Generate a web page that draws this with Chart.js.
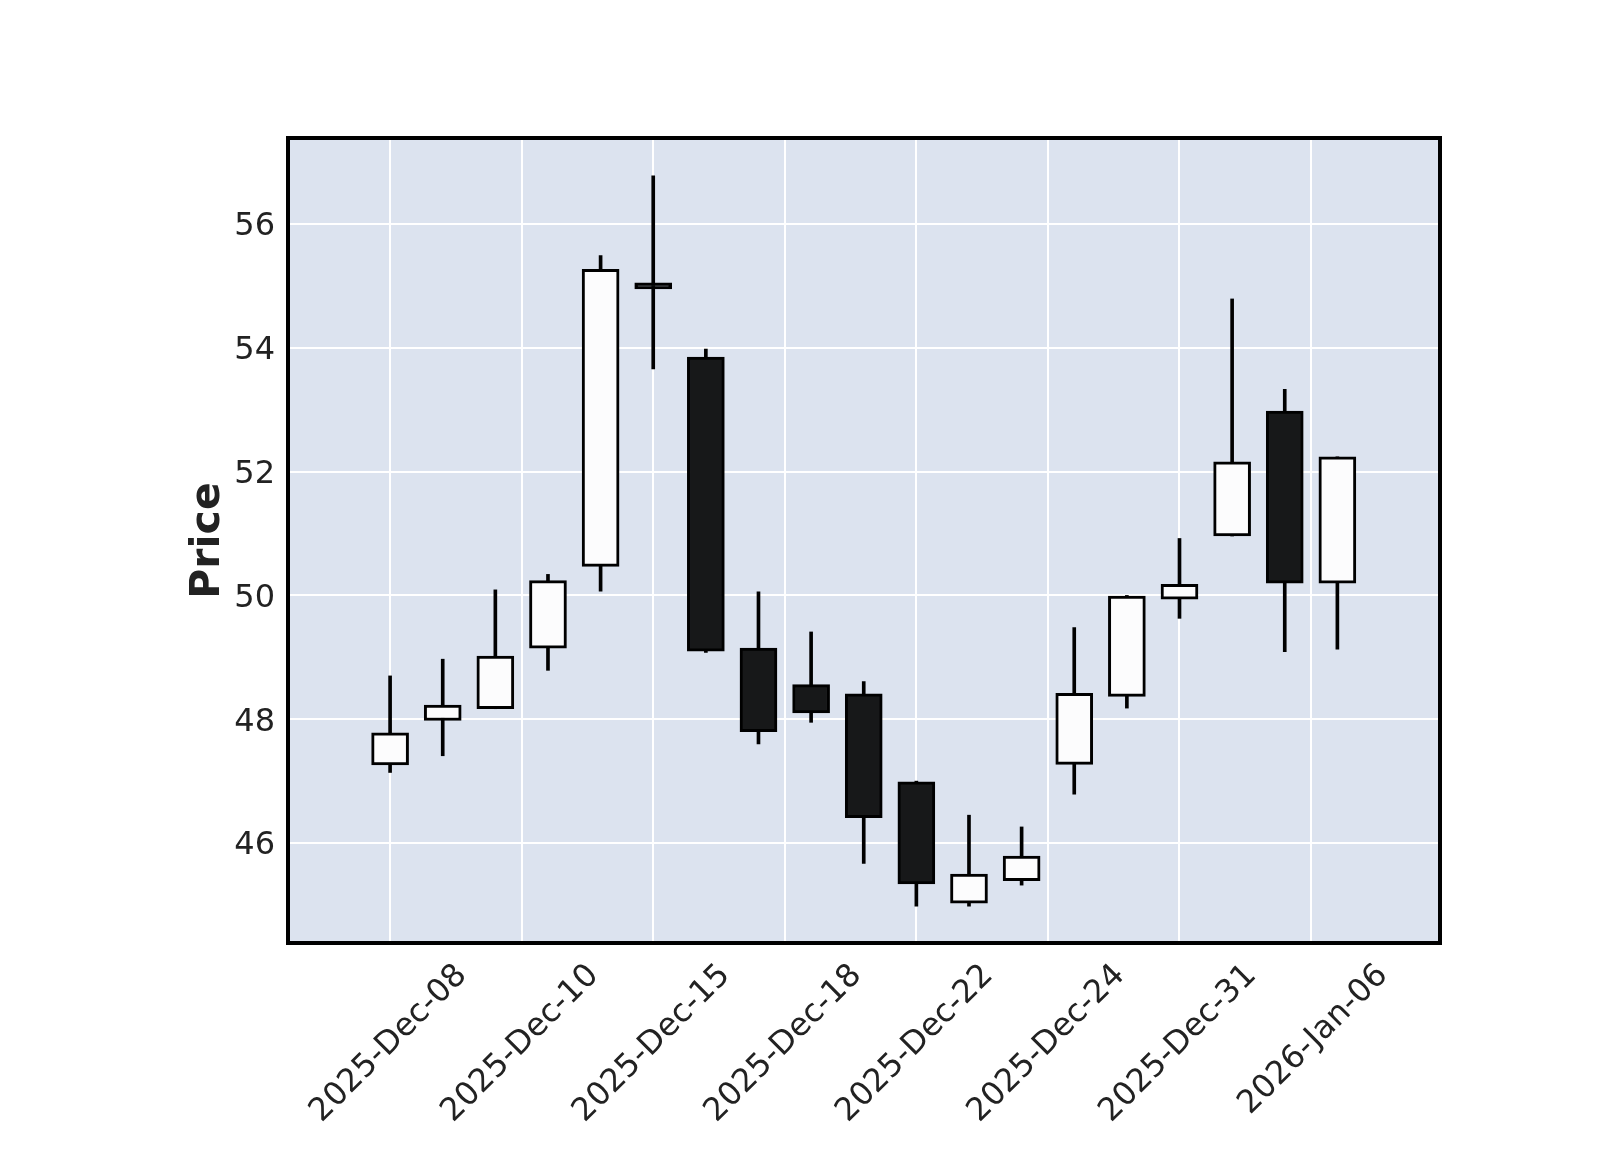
<!DOCTYPE html>
<html>
<head>
<meta charset="utf-8">
<script src="https://cdn.jsdelivr.net/npm/chart.js@4/dist/chart.umd.min.js"></script>
<style>
  html, body { margin: 0; padding: 0; background: #ffffff; }
  #wrap { width: 1600px; height: 1150px; }
</style>
</head>
<body>
<div id="wrap"><canvas id="c" width="1600" height="1150"></canvas></div>
<script>
// ---- data ----
const candleIndex = [0,1,2,3,4,5,6,7,8,9,10,11,12,13,14,15,16,17,18];
const opens  = [47.26,47.98,48.17,49.15,50.47,55.05,53.85,49.15,48.56,48.41,46.99,45.03,45.39,47.27,48.37,49.94,50.96,52.98,50.20];
const highs  = [48.70,48.97,50.09,50.34,55.49,56.78,53.98,50.06,49.41,48.61,47.00,46.45,46.26,49.48,50.00,50.92,54.79,53.33,52.24];
const lows   = [47.14,47.41,48.17,48.79,50.07,53.66,49.08,47.60,47.95,45.67,44.98,44.98,45.32,46.79,48.18,49.63,50.96,49.09,49.13];
const closes = [47.78,48.23,49.02,50.24,55.27,54.95,49.10,47.80,48.10,46.41,45.34,45.50,45.79,48.42,49.99,50.18,52.16,50.20,52.24];

const xTickPositions = [0, 2.5, 5, 7.5, 10, 12.5, 15, 17.5];
const xTickLabels = ['2025-Dec-08','2025-Dec-10','2025-Dec-15','2025-Dec-18','2025-Dec-22','2025-Dec-24','2025-Dec-31','2026-Jan-06'];
const yTickValues = [46, 48, 50, 52, 54, 56];

// ---- styling ----
const FACE = '#DCE3EF';
const UP_FILL = '#fcfcfd';
const DOWN_FILL = '#171819';
const TEXT = '#222222';
const FONT = 'DejaVu Sans';

const wickData = candleIndex.map((x, i) => ({ x: x, y: [lows[i], highs[i]] }));
const bodyData = candleIndex.map((x, i) => ({ x: x, y: [opens[i], closes[i]] }));
const bodyColors = candleIndex.map((x, i) => closes[i] >= opens[i] ? UP_FILL : DOWN_FILL);

const framePlugin = {
  id: 'frame',
  beforeDraw(chart) {
    const a = chart.chartArea, ctx = chart.ctx;
    ctx.save();
    ctx.fillStyle = FACE;
    ctx.fillRect(a.left, a.top, a.right - a.left, a.bottom - a.top);
    ctx.restore();
  },
  afterDraw(chart) {
    const a = chart.chartArea, ctx = chart.ctx;
    ctx.save();
    ctx.strokeStyle = '#000000';
    ctx.lineWidth = 4;
    ctx.strokeRect(a.left, a.top, a.right - a.left, a.bottom - a.top);
    ctx.restore();
  }
};

new Chart(document.getElementById('c'), {
  type: 'bar',
  data: {
    datasets: [
      {
        label: 'body',
        data: bodyData,
        backgroundColor: bodyColors,
        borderColor: '#000000',
        borderWidth: 3,
        borderSkipped: false,
        barThickness: 37,
        grouped: false,
        order: 1
      },
      {
        label: 'wick',
        data: wickData,
        backgroundColor: '#000000',
        borderWidth: 0,
        barThickness: 3,
        grouped: false,
        order: 2
      }
    ]
  },
  options: {
    responsive: false,
    animation: false,
    devicePixelRatio: 1,
    layout: { padding: { top: 138, right: 160, bottom: 0, left: 0 } },
    plugins: { legend: { display: false }, tooltip: { enabled: false } },
    scales: {
      x: {
        type: 'linear',
        min: -1.94,
        max: 19.95,
        offset: false,
        grid: { color: '#ffffff', lineWidth: 2, drawTicks: false, offset: false },
        border: { display: false },
        afterBuildTicks(scale) {
          scale.ticks = xTickPositions.map(v => ({ value: v }));
        },
        afterFit(scale) { scale.height = 207; },
        ticks: {
          autoSkip: false,
          minRotation: 45,
          maxRotation: 45,
          padding: 14,
          labelOffset: 72,
          color: TEXT,
          font: { family: FONT, size: 32 },
          callback(value) {
            const k = xTickPositions.indexOf(value);
            return k >= 0 ? xTickLabels[k] : '';
          }
        }
      },
      y: {
        type: 'linear',
        min: 44.385,
        max: 57.39,
        grid: { color: '#ffffff', lineWidth: 2, drawTicks: false },
        border: { display: false },
        afterBuildTicks(scale) {
          scale.ticks = yTickValues.map(v => ({ value: v }));
        },
        afterFit(scale) { scale.width = 288; },
        ticks: {
          padding: 13,
          labelOffset: 3,
          color: TEXT,
          font: { family: FONT, size: 32 },
          callback(value) { return String(value); }
        },
        title: {
          display: true,
          text: 'Price',
          color: TEXT,
          font: { family: FONT, size: 41, weight: 'bold' },
          padding: { top: 184, bottom: 0 }
        }
      }
    }
  },
  plugins: [framePlugin]
});
</script>
</body>
</html>
